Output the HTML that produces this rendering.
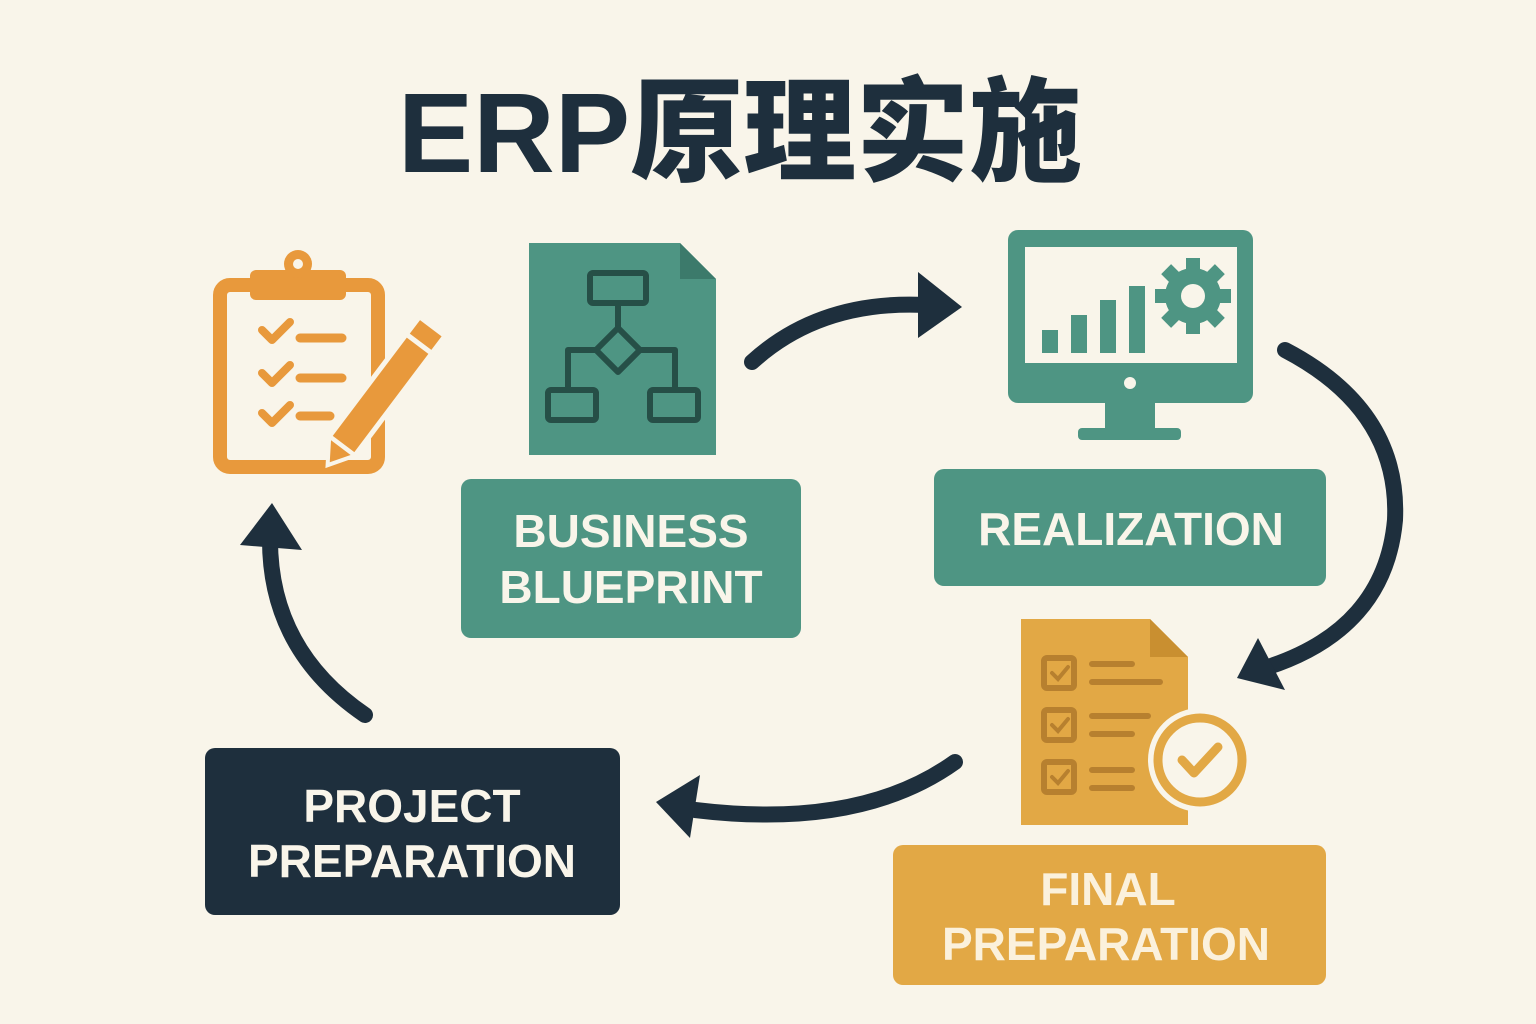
<!DOCTYPE html>
<html><head><meta charset="utf-8"><style>
html,body{margin:0;padding:0;background:#f9f5ea;}
svg{display:block}
</style></head><body>
<svg width="1536" height="1024" viewBox="0 0 1536 1024" xmlns="http://www.w3.org/2000/svg">
<rect width="1536" height="1024" fill="#f9f5ea"/>
<text x="740" y="172" text-anchor="middle" font-family="'Liberation Sans','Noto Sans CJK SC',sans-serif" font-weight="900" font-size="113" fill="#1e2f3d">ERP原理实施</text>

<g fill="none" stroke="#e8993c" stroke-linecap="round" stroke-linejoin="round">
<rect x="220" y="285" width="158" height="182" rx="10" stroke-width="14"/>
<path d="M262 330 l10 10 l18 -18 M262 373 l10 10 l18 -18 M262 413 l10 10 l18 -18" stroke-width="8"/>
<path d="M300 338 h42 M300 378 h42 M300 416 h30" stroke-width="9"/>
</g>
<rect x="250" y="270" width="96" height="30" rx="6" fill="#e8993c"/>
<circle cx="298" cy="264" r="14" fill="#e8993c"/><circle cx="298" cy="264" r="5" fill="#f9f5ea"/>
<g transform="translate(330,462) rotate(-53)">
<rect x="20" y="-16" width="150" height="32" fill="#e8993c" stroke="#f9f5ea" stroke-width="5"/>
<rect x="148" y="-16" width="22" height="32" fill="#e8993c" stroke="#f9f5ea" stroke-width="5"/>
<path d="M20 -16 L-4 0 L20 16 Z" fill="#e8993c" stroke="#f9f5ea" stroke-width="4"/>
</g>

<path d="M529 243 H680 L716 279 V455 H529 Z" fill="#4e9583"/>
<path d="M680 243 V279 H716 Z" fill="#3c7a6b"/>
<g fill="none" stroke="#264f47" stroke-width="6" stroke-linejoin="round">
<rect x="590" y="273" width="56" height="30" rx="3"/>
<path d="M618 303 V328"/>
<path d="M618 328 l22 22 l-22 22 l-22 -22 Z"/>
<path d="M596 350 H568 V390 M640 350 H675 V390"/>
<rect x="548" y="390" width="48" height="30" rx="3"/>
<rect x="650" y="390" width="48" height="30" rx="3"/>
</g>

<rect x="1008" y="230" width="245" height="173" rx="10" fill="#4e9583"/>
<rect x="1025" y="247" width="212" height="116" fill="#f9f5ea"/>
<circle cx="1130" cy="383" r="6" fill="#f9f5ea"/>
<rect x="1105" y="403" width="50" height="28" fill="#4e9583"/>
<rect x="1078" y="428" width="103" height="12" rx="4" fill="#4e9583"/>
<g fill="#4e9583">
<rect x="1042" y="330" width="16" height="23"/><rect x="1071" y="315" width="16" height="38"/>
<rect x="1100" y="300" width="16" height="53"/><rect x="1129" y="286" width="16" height="67"/>
<circle cx="1193" cy="296" r="28"/>
<g transform="translate(1193,296)">
<rect x="-7" y="-38" width="14" height="76"/><rect x="-38" y="-7" width="76" height="14"/>
<rect x="-7" y="-38" width="14" height="76" transform="rotate(45)"/><rect x="-7" y="-38" width="14" height="76" transform="rotate(-45)"/>
</g>
</g>
<circle cx="1193" cy="296" r="12" fill="#f9f5ea"/>

<path d="M1021 619 H1150 L1188 657 V825 H1021 Z" fill="#e2a845"/>
<path d="M1150 619 V657 H1188 Z" fill="#c98f30"/>
<g fill="none" stroke="#b7802f" stroke-width="6" stroke-linecap="round">
<rect x="1044" y="658" width="30" height="30" rx="3"/><rect x="1044" y="710" width="30" height="30" rx="3"/><rect x="1044" y="762" width="30" height="30" rx="3"/>
<path d="M1052 673 l6 6 l10 -12 M1052 725 l6 6 l10 -12 M1052 777 l6 6 l10 -12" stroke-width="4"/>
<path d="M1092 664 h40 M1092 682 h68 M1092 716 h56 M1092 734 h40 M1092 770 h40 M1092 788 h40"/>
</g>
<circle cx="1200" cy="760" r="52" fill="#f9f5ea"/>
<circle cx="1200" cy="760" r="42" fill="none" stroke="#e2a845" stroke-width="9"/>
<path d="M1182 760 l12 13 l24 -26" fill="none" stroke="#e2a845" stroke-width="9" stroke-linecap="round" stroke-linejoin="round"/>

<rect x="461" y="479" width="340" height="159" rx="10" fill="#4e9583"/>
<text font-family="'Liberation Sans',sans-serif" font-weight="bold" font-size="46" fill="#f9f5ea" text-anchor="middle"><tspan x="631" y="547">BUSINESS</tspan><tspan x="631" y="603">BLUEPRINT</tspan></text>
<rect x="934" y="469" width="392" height="117" rx="10" fill="#4e9583"/>
<text x="1131" y="545" font-family="'Liberation Sans',sans-serif" font-weight="bold" font-size="46" fill="#f9f5ea" text-anchor="middle">REALIZATION</text>
<rect x="205" y="748" width="415" height="167" rx="10" fill="#1e2f3d"/>
<text font-family="'Liberation Sans',sans-serif" font-weight="bold" font-size="46" fill="#f9f5ea" text-anchor="middle"><tspan x="412" y="822">PROJECT</tspan><tspan x="412" y="877">PREPARATION</tspan></text>
<rect x="893" y="845" width="433" height="140" rx="10" fill="#e2a845"/>
<text font-family="'Liberation Sans',sans-serif" font-weight="bold" font-size="46" fill="#fbf1dc" text-anchor="middle"><tspan x="1108" y="905">FINAL</tspan><tspan x="1106" y="960">PREPARATION</tspan></text>

<g fill="none" stroke="#1e2f3d" stroke-width="16" stroke-linecap="round">
<path d="M752 362 Q820 300 925 305"/>
<path d="M1285 350 Q1400 410 1395 520 Q1385 630 1265 668"/>
<path d="M955 762 Q860 830 695 810"/>
<path d="M365 715 Q270 650 270 540"/>
</g>
<g fill="#1e2f3d">
<path d="M918 272 L962 307 L918 338 Z"/>
<path d="M1258 638 L1237 678 L1285 690 Z"/>
<path d="M700 775 L656 802 L690 838 Z"/>
<path d="M240 545 L272 503 L302 550 Z"/>
</g>
</svg>
</body></html>
